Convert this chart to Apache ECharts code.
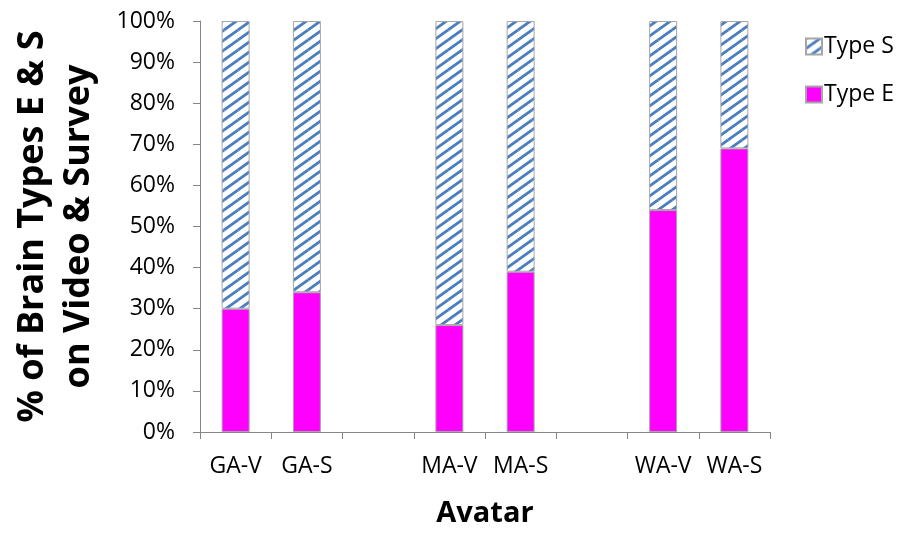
<!DOCTYPE html>
<html>
<head>
<meta charset="utf-8">
<script src="https://cdn.jsdelivr.net/npm/echarts@6/dist/echarts.min.js"></script>
<style>html,body{margin:0;padding:0;background:#fff}#c{width:899px;height:533px}</style>
</head>
<body>
<div id="c"></div>
<script>
const categories = ['GA-V', 'GA-S', '', 'MA-V', 'MA-S', '', 'WA-V', 'WA-S'];
const typeE = [30, 34, null, 26, 39, null, 54, 69];
const typeS = [70, 66, null, 74, 61, null, 46, 31];
const yTicks = [0, 10, 20, 30, 40, 50, 60, 70, 80, 90, 100];

function makePattern() {
  const w = 14, h = 10;
  const c = document.createElement('canvas');
  c.width = w; c.height = h;
  const g = c.getContext('2d');
  g.fillStyle = '#ffffff';
  g.fillRect(0, 0, w, h);
  g.strokeStyle = '#4a7ebe';
  g.lineWidth = 2.8;
  for (let i = -1; i <= 1; i++) {
    for (let j = -1; j <= 1; j++) {
      g.beginPath();
      g.moveTo(i * w, h + j * h);
      g.lineTo(i * w + w, j * h);
      g.stroke();
    }
  }
  return c;
}
const pattern = { image: makePattern(), repeat: 'repeat' };

const FONT = 'Open Sans';
const chart = echarts.init(document.getElementById('c'), null, { renderer: 'canvas' });
chart.setOption({
  animation: false,
  backgroundColor: '#ffffff',
  textStyle: { fontFamily: FONT },
  grid: { left: 200, right: 129, top: 21, bottom: 101, containLabel: false, outerBoundsMode: 'none' },
  legend: {
    orient: 'vertical',
    left: 800,
    top: 30,
    itemWidth: 16,
    itemHeight: 16,
    itemGap: 25,
    icon: 'rect',
    data: ['Type S', 'Type E'],
    textStyle: { fontFamily: FONT, fontSize: 23, color: '#000', padding: [0, 0, 0, -3] }
  },
  xAxis: {
    type: 'category',
    data: categories,
    name: 'Avatar',
    nameLocation: 'middle',
    nameGap: 67,
    nameTextStyle: { fontFamily: FONT, fontSize: 29, fontWeight: 'bold', color: '#000' },
    axisLine: { lineStyle: { color: '#868686', width: 1 } },
    axisTick: { show: true, alignWithLabel: false, length: 7, lineStyle: { color: '#868686' } },
    axisLabel: { fontFamily: FONT, fontSize: 23, color: '#000', margin: 23, interval: 0 },
    splitLine: { show: false }
  },
  yAxis: {
    type: 'value',
    min: 0,
    max: 100,
    interval: 10,
    name: '% of Brain Types E & S\non Video & Survey',
    nameLocation: 'middle',
    nameRotate: 90,
    nameGap: 98,
    nameTextStyle: { fontFamily: FONT, fontSize: 36, fontWeight: 'bold', color: '#000', lineHeight: 46 },
    axisLine: { show: true, lineStyle: { color: '#868686', width: 1 } },
    axisTick: { show: true, length: 7, lineStyle: { color: '#868686' } },
    axisLabel: { fontFamily: FONT, fontSize: 23, color: '#000', margin: 25, formatter: '{value}%' },
    splitLine: { show: false }
  },
  series: [
    {
      name: 'Type E',
      type: 'bar',
      stack: 'total',
      barWidth: 28,
      data: typeE,
      itemStyle: { color: '#ff00ff', borderColor: '#a6a6a6', borderWidth: 1 }
    },
    {
      name: 'Type S',
      type: 'bar',
      stack: 'total',
      barWidth: 28,
      data: typeS,
      itemStyle: { color: pattern, borderColor: '#a6a6a6', borderWidth: 1 }
    }
  ]
});
</script>
</body>
</html>
